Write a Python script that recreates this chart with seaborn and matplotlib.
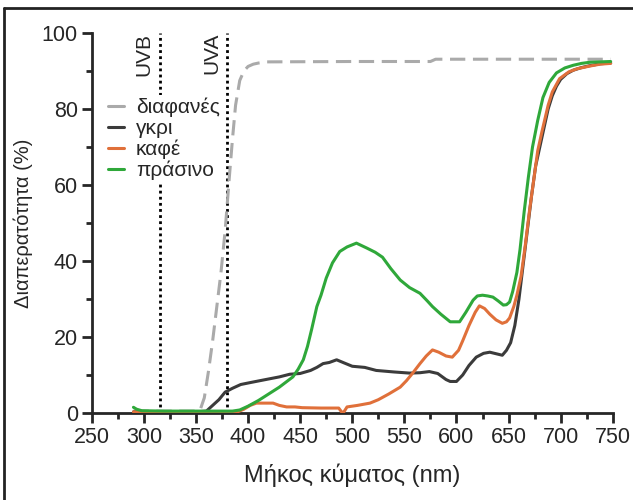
import pandas as pd
import matplotlib
matplotlib.use("Agg")
import matplotlib.pyplot as plt
from matplotlib.lines import Line2D
from matplotlib.ticker import MultipleLocator
import seaborn as sns

# --- data (wavelength nm, transmittance %) ---
clear_nm = [290, 350, 354, 358, 362, 366, 370, 374, 378, 382, 385, 388, 392, 396, 400,
            405, 410, 418, 500, 575, 580, 650, 748]
clear_pct = [0.5, 0.5, 0.8, 4, 11, 19, 28, 37, 48, 62, 72, 81, 87.5, 90, 91.2,
             91.8, 92.1, 92.4, 92.5, 92.5, 93.1, 93.1, 93.1]

gray_nm = [290, 350, 360, 366, 372, 378, 385, 393, 402, 415, 430, 440, 450, 460, 466,
           472, 478, 485, 492, 500, 512, 523, 540, 555, 565, 574, 582, 590, 594, 600,
           606, 612, 619, 626, 632, 638, 644, 648, 652, 656, 660, 664, 668, 672, 676,
           680, 684, 688, 692, 696, 700, 706, 712, 720, 728, 738, 748]
gray_pct = [0.3, 0.3, 0.5, 2, 3.5, 5.5, 6.5, 7.5, 8, 8.7, 9.5, 10.2, 10.4, 11.2, 12,
            13, 13.3, 14, 13.2, 12.3, 12, 11.2, 10.8, 10.5, 10.6, 10.9, 10.4, 8.8, 8.3, 8.3,
            10, 12.5, 14.7, 15.7, 16, 15.6, 15.2, 16.5, 18.5, 23, 30, 39, 48, 57, 65,
            70, 75, 80, 83.5, 86, 87.8, 89.3, 90.2, 90.9, 91.4, 91.9, 92.1]

brown_nm = [290, 390, 396, 402, 408, 424, 430, 437, 445, 452, 470, 487, 490, 492, 495,
            505, 517, 525, 535, 546, 552, 558, 565, 571, 577, 583, 590, 596, 602, 606,
            612, 618, 622, 627, 632, 638, 644, 648, 651, 655, 658, 662, 666, 670, 674,
            678, 682, 688, 692, 699, 708, 716, 728, 738, 748]
brown_pct = [0.3, 0.3, 1, 2, 2.6, 2.6, 2.0, 1.6, 1.6, 1.4, 1.3, 1.3, 0.2, 0.3, 1.6,
             2, 2.6, 3.5, 5, 6.8, 8.5, 10.5, 13, 15, 16.6, 16, 15, 14.7, 16.5, 19,
             23, 26.5, 28.2, 27.5, 26, 24.5, 23.6, 24, 25, 28, 31, 36, 44, 53, 61,
             69, 74, 81, 84.5, 88, 89.8, 90.6, 91.3, 91.8, 92]

green_nm = [290, 293, 298, 320, 385, 392, 400, 410, 418, 430, 443, 448, 453, 457, 461,
            466, 470, 475, 481, 488, 495, 504, 514, 522, 529, 537, 546, 555, 565, 572,
            577, 585, 594, 603, 609, 616, 620, 625, 630, 635, 640, 645, 648, 651, 654,
            658, 661, 665, 669, 673, 678, 683, 689, 696, 704, 712, 720, 728, 748]
green_pct = [1.5, 1.0, 0.6, 0.5, 0.5, 0.8, 1.8, 3.3, 4.7, 6.8, 9.5, 11.5, 14, 17.5, 22,
             28, 31, 35.5, 39.5, 42.5, 43.7, 44.7, 43.4, 42.3, 41, 38, 35, 33, 31.5, 29.5,
             28, 26, 24, 24, 26.5, 29.7, 30.8, 31, 30.8, 30.5, 29.5, 28.4, 28.5, 29.2, 32,
             37, 43, 53, 62, 70, 77, 83, 87, 89.5, 90.8, 91.5, 92, 92.3, 92.5]

labels = ["διαφανές", "γκρι", "καφέ", "πράσινο"]
colors = ["#aaaaaa", "#3b3b3b", "#e0703a", "#2fa83a"]
uv_bounds = [315, 380]
uv_names = ["UVB", "UVA"]

sns.set_style("ticks")
plt.rcParams["font.family"] = ["Liberation Sans", "DejaVu Sans"]

fig = plt.figure(figsize=(6.33, 5.0), dpi=100)
ax = fig.add_axes([0.145, 0.174, 0.823, 0.760])

series = [(clear_nm, clear_pct), (gray_nm, gray_pct), (brown_nm, brown_pct), (green_nm, green_pct)]
for (nm, pct), lab, col in zip(series, labels, colors):
    df = pd.DataFrame({"nm": nm, "pct": pct})
    style = (0, (5, 2.5)) if lab == "διαφανές" else "-"
    sns.lineplot(data=df, x="nm", y="pct", color=col, linewidth=2.2,
                 linestyle=style, ax=ax, zorder=3)

for x, name in zip(uv_bounds, uv_names):
    ax.plot([x, x], [0, 100], color="black", linestyle=(0, (1, 1.2)), linewidth=2, zorder=2)
    ax.text(x - 6, 100, name, rotation=90, ha="right", va="top", fontsize=15)

ax.set_xlim(250, 750)
ax.set_ylim(0, 100)
ax.xaxis.set_major_locator(MultipleLocator(50))
ax.xaxis.set_minor_locator(MultipleLocator(25))
ax.yaxis.set_major_locator(MultipleLocator(20))
ax.yaxis.set_minor_locator(MultipleLocator(10))
ax.tick_params(which="major", length=7, width=2, labelsize=15.5, pad=3)
ax.tick_params(which="minor", length=4, width=2)
for side in ["left", "bottom"]:
    ax.spines[side].set_linewidth(2)
sns.despine(ax=ax)
ax.set_xlabel("Μήκος κύματος (nm)", fontsize=17, labelpad=11)
ax.set_ylabel("Διαπερατότητα (%)", fontsize=14.5, labelpad=6)

handles = [Line2D([], [], color=c, linewidth=2.2) for c in colors]
leg = ax.legend(handles, labels, loc="upper left", bbox_to_anchor=(0.005, 0.865),
                fontsize=15, handlelength=0.75, handletextpad=0.6, labelspacing=0.08,
                frameon=True, framealpha=1, borderpad=0.15)
leg.get_frame().set_edgecolor("none")
leg.set_zorder(5)

# frame edge visible at the top and left of the original picture
fig.add_artist(Line2D([0.007, 1.0], [0.984, 0.984], color="#222222", linewidth=2,
                      transform=fig.transFigure))
fig.add_artist(Line2D([0.007, 0.007], [0.0, 0.984], color="#222222", linewidth=2,
                      transform=fig.transFigure))

fig.savefig("out.png", dpi=100)
